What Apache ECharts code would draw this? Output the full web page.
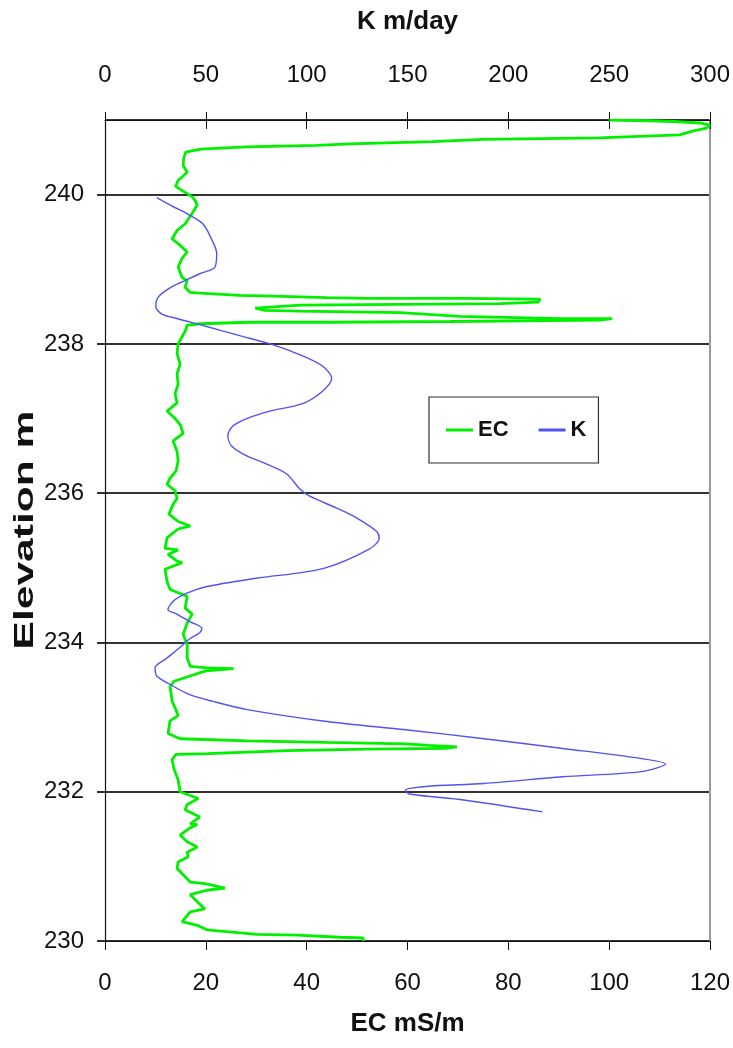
<!DOCTYPE html>
<html>
<head>
<meta charset="utf-8">
<script src="https://cdn.jsdelivr.net/npm/echarts@6/dist/echarts.min.js"></script>
<style>
  html, body { margin: 0; padding: 0; background: #fff; }
  #chart { width: 733px; height: 1048px; }
</style>
</head>
<body>
<div id="chart"></div>
<script>
// EC log (mS/m) against elevation, read top to bottom
const ecElev = [
  241.00, 240.99, 240.98, 240.96, 240.93, 240.89, 240.85, 240.80, 240.76, 240.74,
  240.71, 240.68, 240.66, 240.64, 240.61, 240.57, 240.48, 240.39, 240.30, 240.19,
  240.11, 240.03, 239.97, 239.92, 239.86, 239.75, 239.65, 239.61, 239.52, 239.41,
  239.32, 239.23, 239.15, 239.03, 238.89, 238.85, 238.76, 238.69, 238.68, 238.65,
  238.64, 238.62, 238.61, 238.61, 238.60, 238.56, 238.54, 238.53, 238.52, 238.48,
  238.45, 238.44, 238.42, 238.37, 238.34, 238.34, 238.32, 238.30, 238.29, 238.29,
  238.27, 238.25, 238.17, 238.00, 237.87, 237.73, 237.60, 237.46, 237.33, 237.21,
  237.10, 237.00, 236.92, 236.80, 236.70, 236.56, 236.43, 236.30, 236.20, 236.12,
  236.03, 235.93, 235.85, 235.72, 235.62, 235.56, 235.52, 235.40, 235.26, 235.24,
  235.18, 235.09, 235.07, 234.98, 234.82, 234.71, 234.62, 234.46, 234.38, 234.26,
  234.11, 233.97, 233.79, 233.68, 233.66, 233.65, 233.62, 233.56, 233.48, 233.41,
  233.22, 233.09, 233.02, 232.95, 232.78, 232.71, 232.68, 232.66, 232.64, 232.62,
  232.60, 232.58, 232.57, 232.55, 232.53, 232.51, 232.50, 232.43, 232.30, 232.16,
  232.00, 231.91, 231.83, 231.76, 231.66, 231.57, 231.56, 231.50, 231.42, 231.33,
  231.26, 231.19, 231.13, 231.06, 230.97, 230.86, 230.79, 230.77, 230.71, 230.68,
  230.62, 230.43, 230.39, 230.26, 230.21, 230.15, 230.09, 230.08, 230.05, 230.04,
  230.00
];
const ecValues = [
  100, 108, 113, 118, 120, 119.3, 116.5, 114, 98, 75,
  65, 48.6, 42, 28, 19, 16, 15.6, 15.5, 16.3, 14.5,
  14, 15.9, 17.3, 17.9, 18.3, 17.3, 16.3, 15.9, 14.3, 13.3,
  14.9, 16.3, 15.3, 14.5, 15.3, 16.3, 15.9, 16.9, 18.8, 26.8,
  33.3, 44, 52, 70.4, 86.3, 85.9, 78.4, 58.5, 38.7, 29.8,
  31.7, 38.7, 58.5, 70.4, 90.3, 100.6, 98.2, 68.5, 44.6, 28.8,
  18.8, 16.3, 15.9, 14.5, 14.3, 14.9, 14.3, 14.5, 13.9, 14.3,
  12.3, 13.9, 14.9, 15.5, 13.5, 14.3, 14.5, 14.1, 12.9, 12.3,
  13.9, 14.3, 13.5, 12.7, 14.5, 16.9, 14.5, 12.3, 11.9, 14.5,
  12.5, 14.3, 15.3, 11.9, 12.3, 12.9, 16.3, 15.9, 17.3, 16.3,
  15.5, 16.3, 16.3, 16.9, 20.3, 25.5, 20, 17.3, 13.7, 12.9,
  13.3, 14.1, 14.5, 12.9, 12.5, 14.9, 28.2, 43.8, 59.6, 64.3,
  69.8, 67.5, 51.8, 36.1, 28.2, 20.4, 14.1, 13.3, 13.7, 14.5,
  14.9, 18.5, 16.3, 15.9, 18.8, 16.9, 18.3, 16.5, 14.9, 16.3,
  18.3, 16.3, 16.5, 14.5, 14.3, 15.9, 16.9, 19.8, 23.8, 20.2,
  16.9, 19.8, 16.9, 15.3, 18.3, 20.2, 30.2, 38.1, 46.6, 51.2,
  51.2
];

// K (m/day) against elevation
const kElev = [
  239.96, 239.85, 239.74, 239.61, 239.45, 239.21, 239.03, 238.94, 238.86, 238.75,
  238.62, 238.50, 238.40, 238.34, 238.24, 238.11, 238.00, 237.84, 237.70, 237.54,
  237.37, 237.20, 237.10, 237.00, 236.90, 236.77, 236.63, 236.50, 236.39, 236.26,
  236.06, 235.96, 235.80, 235.67, 235.49, 235.40, 235.25, 234.99, 234.86, 234.75,
  234.66, 234.55, 234.44, 234.38, 234.28, 234.19, 234.13, 234.05, 233.93, 233.79,
  233.66, 233.55, 233.44, 233.30, 233.21, 233.10, 232.94, 232.83, 232.71, 232.58,
  232.46, 232.37, 232.27, 232.20, 232.11, 232.07, 232.02, 231.97, 231.89, 231.73
];
const kValues = [
  25.7, 33, 41, 48.5, 52, 55.4, 54.5, 47, 40.6, 32.2,
  26.2, 25.2, 28.2, 35.6, 49.5, 66.8, 82, 98, 108, 112.4,
  108, 98, 81.7, 70.3, 63.4, 60.9, 62.9, 70.3, 80.2, 90,
  96.5, 101.5, 114.9, 124.7, 134.6, 136, 131, 108, 75, 50.5,
  40.6, 33.7, 31.2, 35.6, 42, 48, 47, 42, 37, 30.7,
  24.8, 25.7, 32.2, 42, 53.5, 70.5, 110, 149, 188, 227,
  262, 278, 266, 227, 188, 159, 149, 151, 178, 217
];

// axis ticks
const ecTicks = [0, 20, 40, 60, 80, 100, 120];
const kTicks = [0, 50, 100, 150, 200, 250, 300];
const elevTicks = [230, 232, 234, 236, 238, 240];

const ecData = ecValues.map((v, i) => [v, ecElev[i]]);
const kData = kValues.map((v, i) => [v, kElev[i]]);

const FONT = '"Liberation Sans", Arial, sans-serif';
const labelStyle = { fontFamily: FONT, fontSize: 24, color: '#111' };
const nameStyle = { fontFamily: FONT, fontSize: 26, fontWeight: 'bold', color: '#111' };

const chart = echarts.init(document.getElementById('chart'), null, { renderer: 'canvas' });

const option = {
  animation: false,
  backgroundColor: '#fff',
  grid: { left: 105, right: 23, top: 120, bottom: 107, containLabel: false },
  // y axis title: the source picture draws it stretched along its length
  graphic: [
    {
      type: 'text', x: 25, y: 530, rotation: Math.PI / 2, scaleX: 1.52,
      style: {
        text: 'Elevation m', fill: '#111', align: 'center', verticalAlign: 'middle',
        font: 'bold 28px "Liberation Sans", Arial, sans-serif'
      }
    }
  ],
  legend: {
    data: ['EC', 'K'],
    left: 429,
    top: 397,
    orient: 'horizontal',
    padding: [22, 12, 22, 17],
    itemGap: 30,
    itemWidth: 27,
    itemHeight: 3,
    icon: 'rect',
    borderColor: '#333',
    borderWidth: 1.2,
    backgroundColor: '#fff',
    textStyle: { fontFamily: FONT, fontSize: 22, fontWeight: 'bold', color: '#111' }
  },
  xAxis: [
    {
      type: 'value', position: 'bottom', min: ecTicks[0], max: ecTicks[ecTicks.length - 1],
      interval: ecTicks[1] - ecTicks[0],
      name: 'EC mS/m', nameLocation: 'middle', nameGap: 70, nameTextStyle: nameStyle,
      axisLine: { show: true, onZero: false, lineStyle: { color: '#111', width: 1.2 } },
      axisTick: { show: true, inside: false, length: 9, lineStyle: { color: '#111' } },
      axisLabel: Object.assign({ margin: 30 }, labelStyle),
      splitLine: { show: false }
    },
    {
      type: 'value', position: 'top', min: kTicks[0], max: kTicks[kTicks.length - 1],
      interval: kTicks[1] - kTicks[0],
      name: 'K m/day', nameLocation: 'middle', nameGap: 85, nameTextStyle: nameStyle,
      axisLine: { show: true, onZero: false, lineStyle: { color: '#111', width: 1.2 } },
      axisTick: { show: true, inside: false, length: 8, lineStyle: { color: '#111' } },
      axisLabel: Object.assign({ margin: 33 }, labelStyle),
      splitLine: { show: false }
    },
    {
      // inner half of the crossing ticks on the top axis
      type: 'value', position: 'top', min: 0, max: 300, interval: 50,
      axisLine: { show: false, onZero: false },
      axisTick: { show: true, inside: true, length: 9, lineStyle: { color: '#111' } },
      axisLabel: { show: false },
      splitLine: { show: false }
    }
  ],
  yAxis: [
    {
      type: 'value', position: 'left', min: 230, max: 241, interval: 2,
      axisLine: { show: true, onZero: false, lineStyle: { color: '#111', width: 1.2 } },
      axisTick: { show: true, inside: false, length: 8, lineStyle: { color: '#333', width: 2 } },
      axisLabel: Object.assign({
        margin: 21, showMaxLabel: false,
        formatter: v => (elevTicks.indexOf(v) >= 0 ? String(v) : '')
      }, labelStyle),
      splitLine: { show: true, lineStyle: { color: '#333', width: 2 } }
    },
    {
      type: 'value', position: 'right', min: 230, max: 241,
      axisLine: { show: true, onZero: false, lineStyle: { color: '#999', width: 2 } },
      axisTick: { show: false },
      axisLabel: { show: false },
      splitLine: { show: false }
    }
  ],
  series: [
    {
      name: 'EC', type: 'line', xAxisIndex: 0, yAxisIndex: 0,
      data: ecData, symbol: 'none', smooth: false,
      lineStyle: { color: '#00f000', width: 2.8 },
      itemStyle: { color: '#00f000' },
      z: 3
    },
    {
      name: 'K', type: 'line', xAxisIndex: 1, yAxisIndex: 0,
      data: kData, symbol: 'none', smooth: 0.3,
      lineStyle: { color: '#5252f5', width: 1.4 },
      itemStyle: { color: '#5252f5' },
      z: 4
    }
  ]
};

chart.setOption(option);
</script>
</body>
</html>
